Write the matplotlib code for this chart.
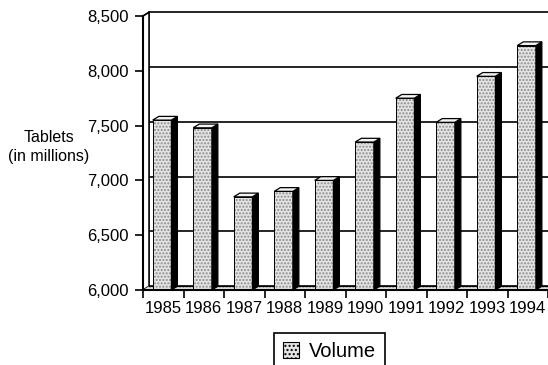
import matplotlib.pyplot as plt
import matplotlib
from matplotlib.patches import Polygon, Patch
import numpy as np

matplotlib.rcParams['font.family'] = ['Liberation Sans', 'DejaVu Sans']
matplotlib.rcParams['font.size'] = 12

# tablet volume per year, millions
years = ['1985', '1986', '1987', '1988', '1989', '1990', '1991', '1992', '1993', '1994']
volume = [7550, 7480, 6850, 6900, 7000, 7350, 7750, 7530, 7950, 8230]

y_min, y_max = 6000, 8500
dx, dy = 0.15, 34      # depth offset of the back plane (category units, data units)
face = '#e4e4e4'
dots = '#8a8a8a'

fig = plt.figure(figsize=(5.48, 3.65), dpi=100)
ax = fig.add_axes([143 / 548, 75 / 365, 405 / 548, 274 / 365])
N = len(years)
index = np.arange(N)
ax.set_xlim(-0.5, N - 0.5)
ax.set_ylim(y_min, y_max)

# back wall gridlines and left side wall
x_left = -0.5
for v in np.arange(y_min, y_max + 1, 500):
    ax.plot([x_left + dx, N], [v + dy, v + dy], color='black', lw=1.2, zorder=1, clip_on=False)
    ax.plot([x_left, x_left + dx], [v, v + dy], color='black', lw=1.0, zorder=1, clip_on=False)
ax.add_patch(Polygon([[x_left, y_min], [x_left + dx, y_min + dy], [x_left + dx, y_max + dy], [x_left, y_max]],
                     closed=True, facecolor='white', edgecolor='black', lw=1.2, zorder=1, clip_on=False))

# floor
ax.add_patch(Polygon([[x_left, y_min], [x_left + dx, y_min + dy], [N, y_min + dy], [N, y_min]],
                     closed=True, facecolor=face, hatch='.....', edgecolor=dots, lw=0, zorder=2, clip_on=False))
ax.plot([x_left + dx, N], [y_min + dy, y_min + dy], color='black', lw=0.8, zorder=2, clip_on=False)

# front faces of the bars
w = 0.46
heights = [v - y_min for v in volume]
bars = ax.bar(index - 0.03, heights, width=w, bottom=y_min, color=face, hatch='.....',
              edgecolor=dots, lw=0, zorder=3)
ax.bar(index - 0.03, heights, width=w, bottom=y_min, fill=False, edgecolor='black', lw=0.7, zorder=4)

# side and top faces
for r in bars:
    x0 = r.get_x()
    x1 = x0 + r.get_width()
    top = r.get_y() + r.get_height()
    ax.add_patch(Polygon([[x1, y_min], [x1, top], [x1 + dx, top + dy], [x1 + dx, y_min + dy]],
                         closed=True, facecolor='black', edgecolor='black', lw=0.8, zorder=4))
    ax.add_patch(Polygon([[x0, top], [x1, top], [x1 + dx, top + dy], [x0 + dx, top + dy]],
                         closed=True, facecolor='#f4f4f4', edgecolor='black', lw=0.9, zorder=4, clip_on=False))

# axes
for s in ['top', 'right']:
    ax.spines[s].set_visible(False)
ax.spines['left'].set_linewidth(1.5)
ax.spines['bottom'].set_linewidth(1.5)
ax.spines['left'].set_zorder(5)
ax.spines['bottom'].set_zorder(5)

ax.set_yticks(np.arange(y_min, y_max + 1, 500))
ax.set_yticklabels(['{:,}'.format(v) for v in range(y_min, y_max + 1, 500)])
ax.tick_params(axis='y', direction='out', length=6, width=1.2, pad=4, labelsize=12)

ax.set_xticks(np.arange(N + 1) - 0.5)
ax.set_xticklabels([])
ax.set_xticks(index, minor=True)
ax.set_xticklabels(years, minor=True)
ax.tick_params(axis='x', which='major', direction='out', length=6, width=1.2)
ax.tick_params(axis='x', which='minor', length=0, pad=8, labelsize=12)

fig.text(49 / 548, 1 - 147 / 365, 'Tablets\n(in millions)', ha='center', va='center',
         multialignment='center', fontsize=11.5, linespacing=1.3)

leg = fig.legend(handles=[Patch(facecolor=face, hatch='....', edgecolor='black', lw=0.8)],
                 labels=['Volume'], loc='upper left', bbox_to_anchor=(274 / 548, 1 - 333 / 365),
                 fontsize=14.5, fancybox=False, edgecolor='black', framealpha=1,
                 handlelength=0.8, handleheight=0.8, handletextpad=0.5, borderpad=0.45,
                 borderaxespad=0)
leg.get_frame().set_linewidth(1.2)

fig.savefig('out.png', dpi=100)
